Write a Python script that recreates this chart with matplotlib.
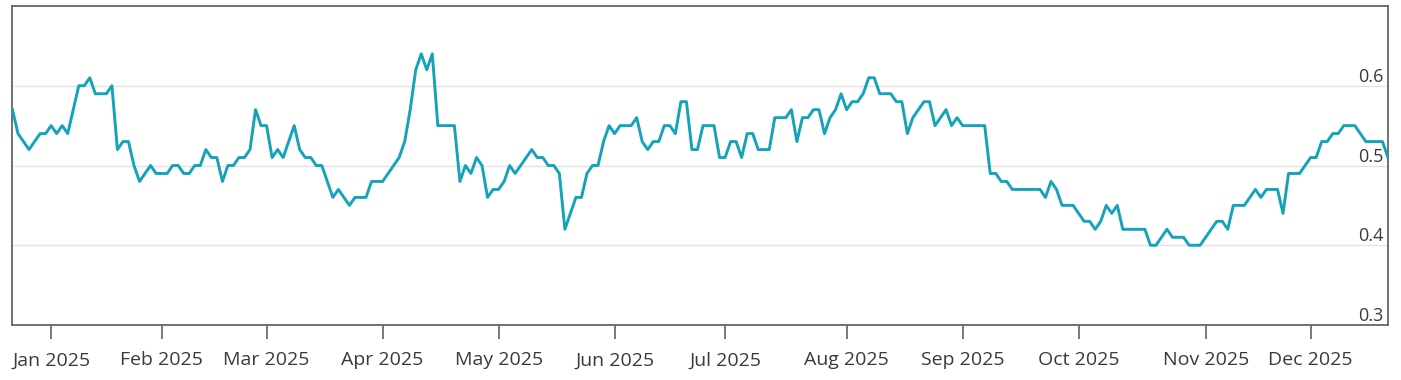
import matplotlib
matplotlib.use("Agg")
from matplotlib import pyplot as plt
import numpy as np
import pandas as pd

# trading days (NYSE calendar) from 20 Dec 2024 to 19 Dec 2025
holidays = ["2024-12-25", "2025-01-01", "2025-01-09", "2025-01-20", "2025-02-17",
            "2025-04-18", "2025-05-26", "2025-06-19", "2025-07-04", "2025-09-01",
            "2025-11-27"]
dates = pd.bdate_range("2024-12-20", "2025-12-19", freq="C", holidays=holidays)

# daily values (one per trading day)
values = [
    0.57, 0.54, 0.53, 0.52, 0.53, 0.54, 0.54, 0.55, 0.54, 0.55,
    0.54, 0.57, 0.60, 0.60, 0.61, 0.59, 0.59, 0.59, 0.60, 0.52,
    0.53, 0.53, 0.50, 0.48, 0.49, 0.50, 0.49, 0.49, 0.49, 0.50,
    0.50, 0.49, 0.49, 0.50, 0.50, 0.52, 0.51, 0.51, 0.48, 0.50,
    0.50, 0.51, 0.51, 0.52, 0.57, 0.55, 0.55, 0.51, 0.52, 0.51,
    0.53, 0.55, 0.52, 0.51, 0.51, 0.50, 0.50, 0.48, 0.46, 0.47,
    0.46, 0.45, 0.46, 0.46, 0.46, 0.48, 0.48, 0.48, 0.49, 0.50,
    0.51, 0.53, 0.57, 0.62, 0.64, 0.62, 0.64, 0.55, 0.55, 0.55,
    0.55, 0.48, 0.50, 0.49, 0.51, 0.50, 0.46, 0.47, 0.47, 0.48,
    0.50, 0.49, 0.50, 0.51, 0.52, 0.51, 0.51, 0.50, 0.50, 0.49,
    0.42, 0.44, 0.46, 0.46, 0.49, 0.50, 0.50, 0.53, 0.55, 0.54,
    0.55, 0.55, 0.55, 0.56, 0.53, 0.52, 0.53, 0.53, 0.55, 0.55,
    0.54, 0.58, 0.58, 0.52, 0.52, 0.55, 0.55, 0.55, 0.51, 0.51,
    0.53, 0.53, 0.51, 0.54, 0.54, 0.52, 0.52, 0.52, 0.56, 0.56,
    0.56, 0.57, 0.53, 0.56, 0.56, 0.57, 0.57, 0.54, 0.56, 0.57,
    0.59, 0.57, 0.58, 0.58, 0.59, 0.61, 0.61, 0.59, 0.59, 0.59,
    0.58, 0.58, 0.54, 0.56, 0.57, 0.58, 0.58, 0.55, 0.56, 0.57,
    0.55, 0.56, 0.55, 0.55, 0.55, 0.55, 0.55, 0.49, 0.49, 0.48,
    0.48, 0.47, 0.47, 0.47, 0.47, 0.47, 0.47, 0.46, 0.48, 0.47,
    0.45, 0.45, 0.45, 0.44, 0.43, 0.43, 0.42, 0.43, 0.45, 0.44,
    0.45, 0.42, 0.42, 0.42, 0.42, 0.42, 0.40, 0.40, 0.41, 0.42,
    0.41, 0.41, 0.41, 0.40, 0.40, 0.40, 0.41, 0.42, 0.43, 0.43,
    0.42, 0.45, 0.45, 0.45, 0.46, 0.47, 0.46, 0.47, 0.47, 0.47,
    0.44, 0.49, 0.49, 0.49, 0.50, 0.51, 0.51, 0.53, 0.53, 0.54,
    0.54, 0.55, 0.55, 0.55, 0.54, 0.53, 0.53, 0.53, 0.53, 0.51,
]
y_ticks = [0.3, 0.4, 0.5, 0.6]

plt.rcParams["font.family"] = ["Open Sans", "DejaVu Sans"]

x = np.arange(len(values))
# first trading day of each month in 2025
month_pos = [i for i in range(1, len(dates)) if dates[i].month != dates[i - 1].month]
month_lab = [dates[i].strftime("%b %Y") for i in month_pos]

fig = plt.figure(figsize=(14.01, 3.8), dpi=100)
ax = fig.add_axes([0.0089, 0.1447, 0.9818, 0.8395])

ax.plot(x, values, color="#14a3b8", linewidth=2.1, solid_joinstyle="round", zorder=3)

ax.set_xlim(0, len(values) - 1)
ax.set_ylim(0.3, 0.7)

ax.set_yticks(y_ticks)
ax.set_yticklabels([f"{v:.1f}" for v in y_ticks])
ax.yaxis.tick_right()
ax.tick_params(axis="y", length=0, pad=-3, labelsize=13, labelcolor="#3a3a3a")
for lab in ax.get_yticklabels():
    lab.set_horizontalalignment("right")
    lab.set_verticalalignment("bottom")
ax.grid(axis="y", color="#e3e3e3", linewidth=1.0, zorder=0)

ax.set_xticks(month_pos)
ax.set_xticklabels(month_lab)
ax.tick_params(axis="x", direction="out", length=10, width=1.1, color="#555555",
               pad=9, labelsize=14, labelcolor="#3a3a3a")

for s in ax.spines.values():
    s.set_color("#666666")
    s.set_linewidth(1.3)

fig.savefig("out.png", dpi=100)
